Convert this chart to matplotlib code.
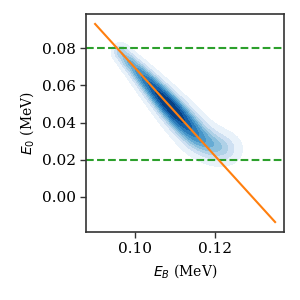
import numpy as np
import matplotlib
matplotlib.use("Agg")
import matplotlib.pyplot as plt

# Orange line endpoints (E_B, E_0)
line_eb = [0.090, 0.135]
line_e0 = [0.093, -0.0135]

# Horizontal reference levels
h_levels = [0.08, 0.02]

# Density ridge: positions, weights, spread
ridge_eb = [0.0963, 0.0984, 0.1006, 0.1027, 0.1048, 0.1069, 0.1090, 0.1111,
            0.1132, 0.1153, 0.1175, 0.1200, 0.1222, 0.1240]
ridge_e0 = [0.0780, 0.0730, 0.0680, 0.0630, 0.0580, 0.0530, 0.0480, 0.0430,
            0.0380, 0.0330, 0.0295, 0.0268, 0.0258, 0.0255]
ridge_w = [0.35, 0.5, 0.65, 0.85, 1.05, 1.25, 1.4, 1.4, 1.3, 1.1, 0.9, 0.7, 0.5, 0.3]
ridge_s = [5.5, 6, 6.5, 7, 7.5, 8, 8.5, 9, 9.5, 10, 10.5, 10.5, 10.5, 10]

plt.rcParams['font.family'] = ['DejaVu Serif']
plt.rcParams['mathtext.fontset'] = 'dejavusans'

fig = plt.figure(figsize=(3, 3), dpi=100)
ax = fig.add_axes([0.287, 0.227, 0.66, 0.726])

# density on grid (kernel widths in screen-like units)
ux, uy = 4100.0, 1862.5
gx = np.linspace(0.085, 0.14, 400)
gy = np.linspace(0.0, 0.1, 400)
X, Y = np.meshgrid(gx, gy)
Z = np.zeros_like(X)
for ex, ey, w, s in zip(ridge_eb, ridge_e0, ridge_w, ridge_s):
    dx = (X - ex) * ux / s
    dy = (Y - ey) * uy / s
    Z += w / s**2 * np.exp(-0.5 * (dx**2 + dy**2))
Z /= Z.sum()

# iso-proportion levels like seaborn (thresh=0.05, 10 levels)
zs = np.sort(Z.ravel())
cum = np.cumsum(zs)
cum /= cum[-1]
props = np.linspace(0.05, 1, 10)[:-1]
lev = [zs[np.searchsorted(cum, p)] for p in props] + [Z.max() * 1.01]
ax.contourf(X, Y, Z, levels=lev, cmap='Blues', zorder=1)

for h in h_levels:
    ax.axhline(h, color='#2ca02c', ls='--', lw=1.5, zorder=2)
ax.plot(line_eb, line_e0, color='#ff7f0e', lw=1.5, zorder=3)

ax.set_xlim(0.08775, 0.13725)
ax.set_ylim(-0.0188, 0.0983)
ax.set_xticks([0.10, 0.12])
ax.set_yticks([0.00, 0.02, 0.04, 0.06, 0.08])
ax.set_xticklabels(['0.10', '0.12'])
ax.set_yticklabels(['0.00', '0.02', '0.04', '0.06', '0.08'])
ax.tick_params(labelsize=11, color='#333333', width=1.0, length=4)
for s in ax.spines.values():
    s.set_color('#333333')
    s.set_linewidth(1.2)
ax.set_xlabel(r'$E_B$ (MeV)', fontsize=10)
ax.set_ylabel(r'$E_0$ (MeV)', fontsize=10)

fig.savefig('out.png', dpi=100)
